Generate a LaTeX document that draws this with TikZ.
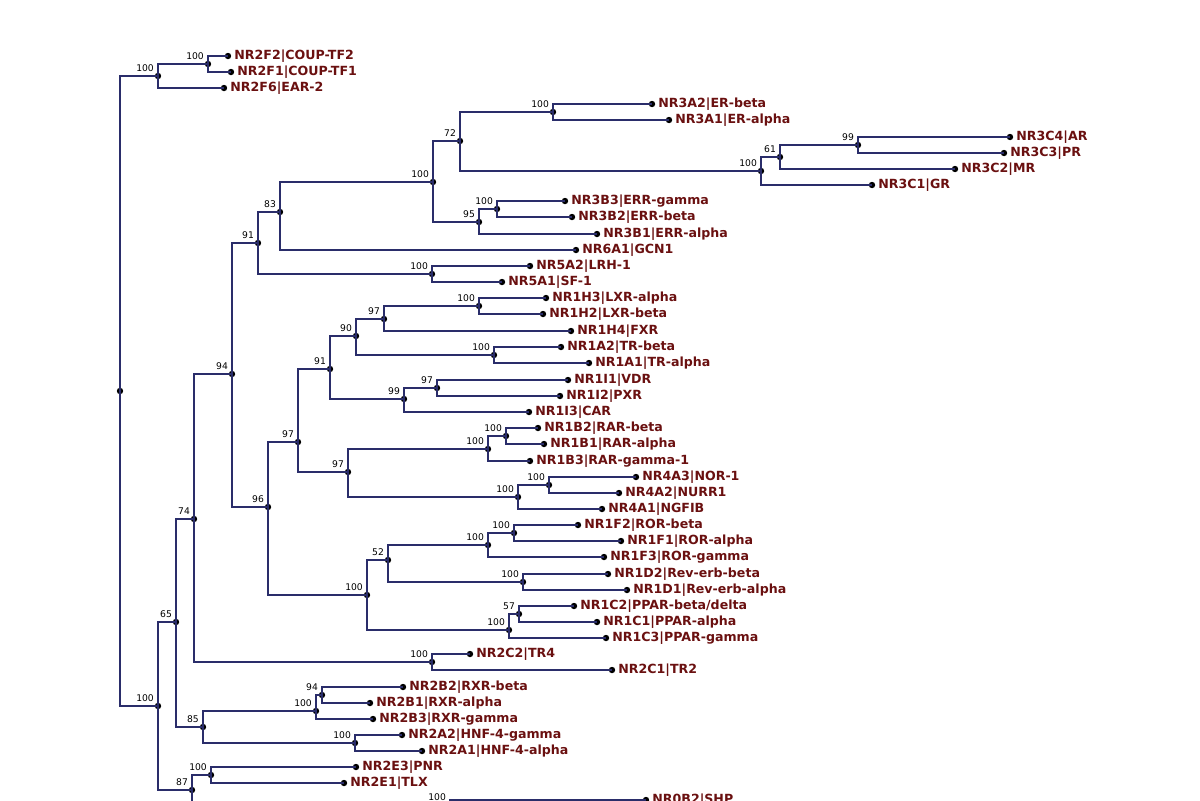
\documentclass[tikz,border=0pt]{standalone}
\usepackage{fontspec}
\setsansfont{DejaVu Sans}
\usepackage{xcolor}
\usetikzlibrary{positioning}
\definecolor{branch}{HTML}{2A2D6A}
\definecolor{taxon}{HTML}{6A1010}
\tikzset{
  br/.style={draw=branch, line width=0.6pt},
  inn/.style={circle, fill=black, inner sep=0pt, minimum size=3.2pt,
    label={[font=\sffamily\fontsize{4.6}{5}\selectfont, inner sep=0.6pt, anchor=south east]above left:#1}},
  leaf/.style={circle, fill=black, inner sep=0pt, minimum size=3.2pt,
    label={[font=\sffamily\bfseries\fontsize{6.3}{7}\selectfont, text=taxon, inner sep=1.2pt]right:#1}},
}
\begin{document}
\begin{tikzpicture}[x=0.5pt, y=-0.5pt]
\useasboundingbox (0,0) rectangle (1200,800);
\clip (0,0) rectangle (1200,800);

% internal nodes
\node[inn={}] (root) at (120,391) {};
\node[inn=100] (nA) at (158,76) {};
\node[inn=100] (nF12) at (208,64) {};
\node[inn=100] (nB) at (158,706) {};
\node[inn=65] (n65) at (176,622) {};
\node[inn=87] (n87) at (192,790) {};
\node[inn=74] (n74) at (194,519) {};
\node[inn=85] (n85) at (203,727) {};
\node[inn=94] (n94) at (232,374) {};
\node[inn=100] (n2C) at (432,662) {};
\node[inn=91] (n91) at (258,243) {};
\node[inn=96] (n96) at (268,507) {};
\node[inn=83] (n83) at (280,212) {};
\node[inn=100] (n5A) at (432,274) {};
\node[inn=100] (n3) at (433,182) {};
\node[inn=72] (n72) at (460,141) {};
\node[inn=95] (n95) at (479,222) {};
\node[inn=100] (n3A) at (553,112) {};
\node[inn=100] (n3C) at (761,171) {};
\node[inn=61] (n61) at (780,157) {};
\node[inn=99] (n3C43) at (858,145) {};
\node[inn=100] (n3B) at (497,209) {};
\node[inn=97] (n97a) at (298,442) {};
\node[inn=100] (n100b) at (367,595) {};
\node[inn=91] (n91b) at (330,369) {};
\node[inn=97] (n97b) at (348,472) {};
\node[inn=90] (n90) at (356,336) {};
\node[inn=99] (n1I) at (404,399) {};
\node[inn=97] (n97c) at (384,319) {};
\node[inn=100] (n1A) at (494,355) {};
\node[inn=100] (n1H) at (479,306) {};
\node[inn=97] (n1I12) at (437,388) {};
\node[inn=100] (n1B) at (488,449) {};
\node[inn=100] (n1B21) at (506,436) {};
\node[inn=100] (n4A) at (518,497) {};
\node[inn=100] (n4A32) at (549,485) {};
\node[inn=52] (n52) at (388,560) {};
\node[inn=100] (n1C) at (509,630) {};
\node[inn=57] (n1C21) at (519,614) {};
\node[inn=100] (n1F) at (488,545) {};
\node[inn=100] (n1F21) at (514,533) {};
\node[inn=100] (n1D) at (523,582) {};
\node[inn=100] (n2B) at (316,711) {};
\node[inn=94] (n2B21) at (322,695) {};
\node[inn=100] (n2A) at (355,743) {};
\node[inn=100] (n2E) at (211,775) {};
\node[inn=100] (n0B) at (450,805) {};

% leaves
\node[leaf={NR2F2|COUP-TF2}] (l2F2) at (228,56) {};
\node[leaf={NR2F1|COUP-TF1}] (l2F1) at (231,72) {};
\node[leaf={NR2F6|EAR-2}] (l2F6) at (224,88) {};
\node[leaf={NR3A2|ER-beta}] (l3A2) at (652,104) {};
\node[leaf={NR3A1|ER-alpha}] (l3A1) at (669,120) {};
\node[leaf={NR3C4|AR}] (l3C4) at (1010,137) {};
\node[leaf={NR3C3|PR}] (l3C3) at (1004,153) {};
\node[leaf={NR3C2|MR}] (l3C2) at (955,169) {};
\node[leaf={NR3C1|GR}] (l3C1) at (872,185) {};
\node[leaf={NR3B3|ERR-gamma}] (l3B3) at (565,201) {};
\node[leaf={NR3B2|ERR-beta}] (l3B2) at (572,217) {};
\node[leaf={NR3B1|ERR-alpha}] (l3B1) at (597,234) {};
\node[leaf={NR6A1|GCN1}] (l6A1) at (576,250) {};
\node[leaf={NR5A2|LRH-1}] (l5A2) at (530,266) {};
\node[leaf={NR5A1|SF-1}] (l5A1) at (502,282) {};
\node[leaf={NR1H3|LXR-alpha}] (l1H3) at (546,298) {};
\node[leaf={NR1H2|LXR-beta}] (l1H2) at (543,314) {};
\node[leaf={NR1H4|FXR}] (l1H4) at (571,331) {};
\node[leaf={NR1A2|TR-beta}] (l1A2) at (561,347) {};
\node[leaf={NR1A1|TR-alpha}] (l1A1) at (589,363) {};
\node[leaf={NR1I1|VDR}] (l1I1) at (568,380) {};
\node[leaf={NR1I2|PXR}] (l1I2) at (560,396) {};
\node[leaf={NR1I3|CAR}] (l1I3) at (529,412) {};
\node[leaf={NR1B2|RAR-beta}] (l1B2) at (538,428) {};
\node[leaf={NR1B1|RAR-alpha}] (l1B1) at (544,444) {};
\node[leaf={NR1B3|RAR-gamma-1}] (l1B3) at (530,461) {};
\node[leaf={NR4A3|NOR-1}] (l4A3) at (636,477) {};
\node[leaf={NR4A2|NURR1}] (l4A2) at (619,493) {};
\node[leaf={NR4A1|NGFIB}] (l4A1) at (602,509) {};
\node[leaf={NR1F2|ROR-beta}] (l1F2) at (578,525) {};
\node[leaf={NR1F1|ROR-alpha}] (l1F1) at (621,541) {};
\node[leaf={NR1F3|ROR-gamma}] (l1F3) at (604,557) {};
\node[leaf={NR1D2|Rev-erb-beta}] (l1D2) at (608,574) {};
\node[leaf={NR1D1|Rev-erb-alpha}] (l1D1) at (627,590) {};
\node[leaf={NR1C2|PPAR-beta/delta}] (l1C2) at (574,606) {};
\node[leaf={NR1C1|PPAR-alpha}] (l1C1) at (597,622) {};
\node[leaf={NR1C3|PPAR-gamma}] (l1C3) at (606,638) {};
\node[leaf={NR2C2|TR4}] (l2C2) at (470,654) {};
\node[leaf={NR2C1|TR2}] (l2C1) at (612,670) {};
\node[leaf={NR2B2|RXR-beta}] (l2B2) at (403,687) {};
\node[leaf={NR2B1|RXR-alpha}] (l2B1) at (370,703) {};
\node[leaf={NR2B3|RXR-gamma}] (l2B3) at (373,719) {};
\node[leaf={NR2A2|HNF-4-gamma}] (l2A2) at (402,735) {};
\node[leaf={NR2A1|HNF-4-alpha}] (l2A1) at (422,751) {};
\node[leaf={NR2E3|PNR}] (l2E3) at (356,767) {};
\node[leaf={NR2E1|TLX}] (l2E1) at (344,783) {};
\node[leaf={NR0B2|SHP}] (l0B2) at (646,800) {};

% branches
\foreach \p/\c in {root/nA, root/nB, nA/nF12, nA/l2F6, nF12/l2F2, nF12/l2F1,
  nB/n65, nB/n87, n65/n74, n65/n85, n74/n94, n74/n2C, n2C/l2C2, n2C/l2C1,
  n94/n91, n94/n96, n91/n83, n91/n5A, n5A/l5A2, n5A/l5A1,
  n83/n3, n83/l6A1, n3/n72, n3/n95, n72/n3A, n72/n3C, n3A/l3A2, n3A/l3A1,
  n3C/n61, n3C/l3C1, n61/n3C43, n61/l3C2, n3C43/l3C4, n3C43/l3C3,
  n95/n3B, n95/l3B1, n3B/l3B3, n3B/l3B2,
  n96/n97a, n96/n100b, n97a/n91b, n97a/n97b, n91b/n90, n91b/n1I,
  n90/n97c, n90/n1A, n97c/n1H, n97c/l1H4, n1H/l1H3, n1H/l1H2, n1A/l1A2, n1A/l1A1,
  n1I/n1I12, n1I/l1I3, n1I12/l1I1, n1I12/l1I2,
  n97b/n1B, n97b/n4A, n1B/n1B21, n1B/l1B3, n1B21/l1B2, n1B21/l1B1,
  n4A/n4A32, n4A/l4A1, n4A32/l4A3, n4A32/l4A2,
  n100b/n52, n100b/n1C, n52/n1F, n52/n1D, n1F/n1F21, n1F/l1F3, n1F21/l1F2, n1F21/l1F1,
  n1D/l1D2, n1D/l1D1, n1C/n1C21, n1C/l1C3, n1C21/l1C2, n1C21/l1C1,
  n85/n2B, n85/n2A, n2B/n2B21, n2B/l2B3, n2B21/l2B2, n2B21/l2B1, n2A/l2A2, n2A/l2A1,
  n87/n2E, n87/n0B, n2E/l2E3, n2E/l2E1, n0B/l0B2}
  \draw[br] (\p.center) |- (\c.center);
\end{tikzpicture}
\end{document}
